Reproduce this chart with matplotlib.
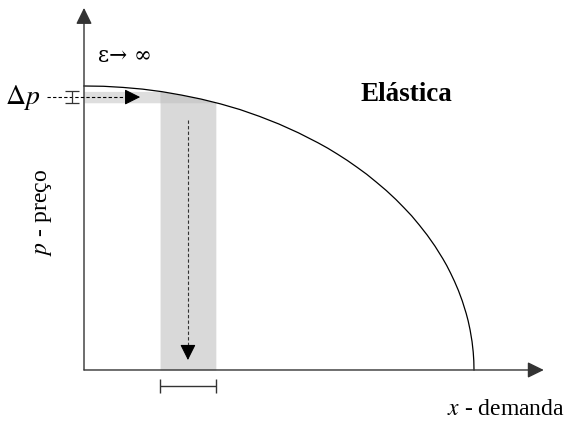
"""Curva de demanda elástica (esquema): faixa de preço Δp e faixa de demanda."""
import numpy as np
import matplotlib
matplotlib.use("Agg")
import matplotlib.pyplot as plt

# curva de demanda (x - demanda, p - preço)
demanda = [0, 5, 10, 15, 20, 25, 30, 35, 40, 45, 50, 55, 60, 62.5, 65, 67.5,
           70, 72.5, 75, 77.5, 80, 82, 84, 86, 88, 90, 92, 93, 94, 95, 96, 97,
           98, 98.5, 99, 99.5, 99.8, 99.95, 100]
preco = [100, 99.9, 99.5, 98.9, 98.0, 96.8, 95.4, 93.7, 91.7, 89.3, 86.6,
         83.5, 80.0, 78.1, 76.0, 73.8, 71.4, 68.9, 66.1, 63.2, 60.0, 57.2,
         54.3, 51.0, 47.5, 43.6, 39.2, 36.8, 34.1, 31.2, 28.0, 24.3, 19.9,
         17.3, 14.1, 10.0, 6.3, 3.2, 0]
faixa_preco = [94.1, 98.1]      # Δp
faixa_demanda = [19.5, 33.8]    # variação correspondente da demanda

ESCURO = "#333333"
plt.rcParams["font.family"] = ["Liberation Serif", "DejaVu Serif"]
plt.rcParams["mathtext.fontset"] = "stix"

fig = plt.figure(figsize=(5.66, 4.25), dpi=100)
ax = fig.add_axes([0, 0, 1, 1])
ax.set_xlim(-21.54, 123.59)
ax.set_ylim(-19.37, 130.28)
ax.axis("off")

xc = np.array(demanda)
yc = np.array(preco)

# faixa horizontal (Δp), do eixo até a curva
xh = np.linspace(0, faixa_demanda[1], 200)
topo_h = np.minimum(faixa_preco[1], np.interp(xh, xc, yc))
ax.fill_between(xh, faixa_preco[0], topo_h, where=topo_h >= faixa_preco[0],
                color="#dedede", lw=0, zorder=1)
# faixa vertical (demanda), do eixo até a curva
xv = np.linspace(faixa_demanda[0], faixa_demanda[1], 100)
topo_v = np.interp(xv, xc, yc)
ax.fill_between(xv, 0, topo_v, color="#d9d9d9", lw=0, zorder=1)
# sobreposição
topo_o = np.minimum(faixa_preco[1], topo_v)
ax.fill_between(xv, faixa_preco[0], topo_o, where=topo_o >= faixa_preco[0],
                color="#cbcbcb", lw=0, zorder=2)

ax.plot(xc, yc, color="black", lw=0.9, zorder=4)

# eixos com setas
seta = dict(arrowstyle="-|>,head_length=0.55,head_width=0.27",
            color=ESCURO, lw=1.0, shrinkA=0, shrinkB=0, mutation_scale=18)
ax.annotate("", xy=(0, 127.5), xytext=(0, 0), arrowprops=seta, zorder=5)
ax.annotate("", xy=(117.9, 0), xytext=(0, 0), arrowprops=seta, zorder=5)

# setas tracejadas
p_meio = sum(faixa_preco) / 2
d_meio = sum(faixa_demanda) / 2
cabeca = dict(arrowstyle="-|>,head_length=0.6,head_width=0.3",
              color="black", lw=0.8, shrinkA=0, shrinkB=0, mutation_scale=16)
ax.plot([-9.5, 12.0], [p_meio, p_meio], color="black", lw=0.8,
        ls=(0, (3, 2)), zorder=6)
ax.annotate("", xy=(14.4, p_meio), xytext=(11.0, p_meio), arrowprops=cabeca,
            zorder=6)
ax.plot([d_meio, d_meio], [88.0, 6.0], color="#333333", lw=0.8,
        ls=(0, (3, 2)), zorder=6)
ax.annotate("", xy=(d_meio, 3.5), xytext=(d_meio, 7.5), arrowprops=cabeca,
            zorder=6)

# marcadores de intervalo
ax.errorbar([-3.1], [p_meio], yerr=[(faixa_preco[1] - faixa_preco[0]) / 2],
            fmt="none", ecolor=ESCURO, elinewidth=0.9, capsize=4.7,
            capthick=0.9, zorder=6)
ax.errorbar([d_meio], [-5.6], xerr=[(faixa_demanda[1] - faixa_demanda[0]) / 2],
            fmt="none", ecolor=ESCURO, elinewidth=1.0, capsize=5.0,
            capthick=1.0, zorder=6)

# textos
ax.text(-11.3, p_meio, r"$\Delta p$", ha="right", va="center", fontsize=20)
ax.text(3.6, 110.6, "ε→ ∞", ha="left", va="center", fontsize=15.5,
        family=["DejaVu Serif"])
ax.text(70.8, 97.0, "Elástica", ha="left", va="center", fontsize=19.5,
        fontweight="bold")
ax.text(123.3, -15.8, r"$x$ - demanda", ha="right", va="baseline", fontsize=17)
ax.text(-10.3, 55.6, r"$p$ - preço", ha="center", va="center", fontsize=17,
        rotation=90)

fig.savefig("out.png", dpi=100)
plt.close(fig)
